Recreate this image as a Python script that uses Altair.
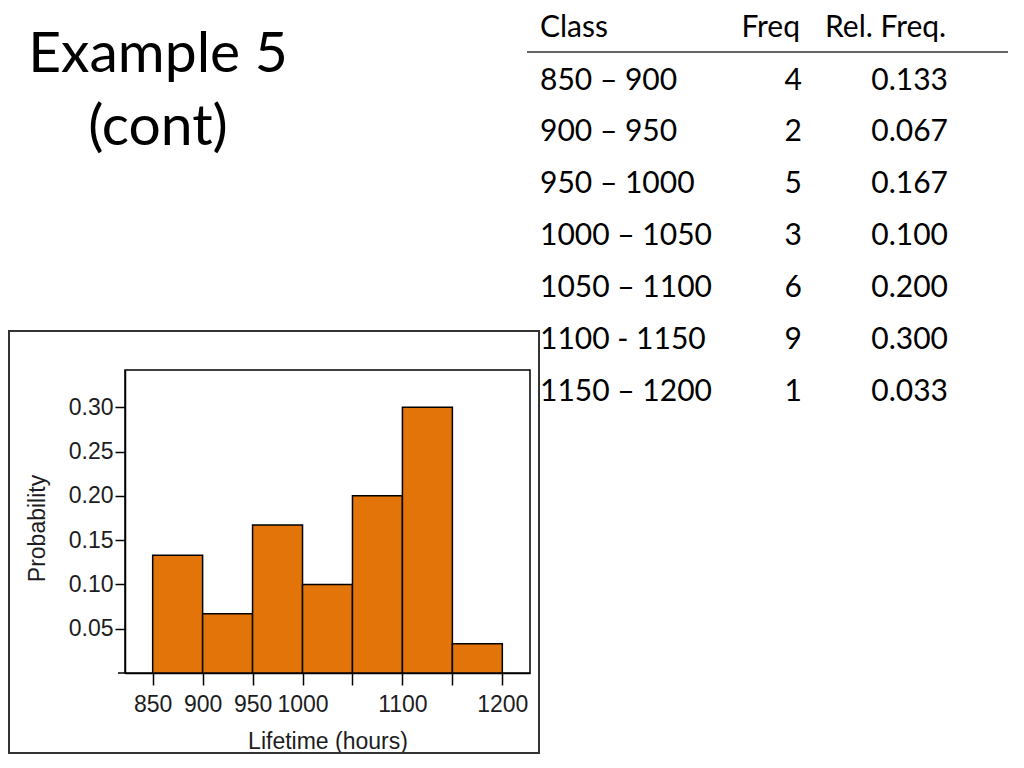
import altair as alt
import pandas as pd

# ---- data ----
classes = ["850 – 900", "900 – 950", "950 – 1000", "1000 – 1050",
           "1050 – 1100", "1100 - 1150", "1150 – 1200"]
bin_start = [850, 900, 950, 1000, 1050, 1100, 1150]
bin_end = [900, 950, 1000, 1050, 1100, 1150, 1200]
freqs = [4, 2, 5, 3, 6, 9, 1]
rel_freqs = [0.133, 0.067, 0.167, 0.100, 0.200, 0.300, 0.033]
x_ticks = [850, 900, 950, 1000, 1050, 1100, 1150, 1200]
y_ticks = [0.05, 0.10, 0.15, 0.20, 0.25, 0.30]

df = pd.DataFrame({
    "row": list(range(len(classes))),
    "cls": classes,
    "start": bin_start,
    "end": bin_end,
    "freq": [str(f) for f in freqs],
    "rel": rel_freqs,
    "rel_txt": [f"{v:.3f}" for v in rel_freqs],
})
one = pd.DataFrame({"k": [0]})  # single row for annotations

ORANGE = "#E2740A"
LAB = "#1c1c22"
SANS = "Liberation Sans"
SLIDE = "Lato"

xscale = alt.Scale(domain=[822.3, 1227.7], nice=False, zero=False)
yscale = alt.Scale(domain=[0, 0.342], nice=False, zero=True)

bars = alt.Chart(df).mark_bar(fill=ORANGE, stroke="black", strokeWidth=1.5).encode(
    x=alt.X("start:Q", scale=xscale,
            axis=alt.Axis(values=x_ticks, format="d",
                          labelExpr="datum.value == 1050 || datum.value == 1150 ? '' : datum.label",
                          tickSize=12, tickWidth=1.5, tickColor="black",
                          domainColor="black", domainWidth=1.5,
                          labelFont=SANS, labelFontSize=23, labelColor=LAB,
                          labelPadding=8, labelFlush=False, labelOverlap=False, labelBound=False,
                          grid=False, title="Lifetime (hours)", titleFont=SANS,
                          titleFontSize=23, titleFontWeight="normal", titleColor=LAB,
                          titleY=75, titleBaseline="alphabetic")),
    x2="end:Q",
    y=alt.Y("rel:Q", scale=yscale,
            axis=alt.Axis(values=y_ticks, format=".2f",
                          tickSize=10, tickWidth=1.5, tickColor="black",
                          domainColor="black", domainWidth=1.5,
                          labelFont=SANS, labelFontSize=23, labelColor=LAB,
                          labelPadding=2, labelFlush=False, labelOverlap=False,
                          grid=False, title="Probability", titleFont=SANS,
                          titleFontSize=23, titleFontWeight="normal", titleColor=LAB,
                          titleX=-88, titleY=158, titleAlign="center",
                          titleBaseline="middle")),
    y2=alt.datum(0),
)

# small extension of the x-axis line to the left of the y axis
axis_ext = alt.Chart(one).mark_rule(color="black", strokeWidth=1.5).encode(
    x=alt.value(-7), x2=alt.value(0), y=alt.value(303))

# outer border of the pasted picture
outer = alt.Chart(one).mark_rect(fillOpacity=0, stroke="#333333", strokeWidth=2).encode(
    x=alt.value(-116), x2=alt.value(414), y=alt.value(-39), y2=alt.value(383))

# slide title
t1 = alt.Chart(one).mark_text(text="Example 5", font=SLIDE, fontSize=57, align="center",
                              baseline="alphabetic", color="black").encode(
    x=alt.value(33), y=alt.value(-298))
t2 = alt.Chart(one).mark_text(text="(cont)", font=SLIDE, fontSize=57, align="center",
                              baseline="alphabetic", color="black").encode(
    x=alt.value(33), y=alt.value(-225))

# table
row_scale = alt.Scale(domain=[0, 6], range=[-280.5, 30.5], nice=False, zero=False)
tab_common = dict(font=SLIDE, fontSize=30, baseline="alphabetic", color="black")

h1 = alt.Chart(one).mark_text(text="Class", align="left", **tab_common).encode(
    x=alt.value(415), y=alt.value(-333))
h2 = alt.Chart(one).mark_text(text="Freq", align="right", **tab_common).encode(
    x=alt.value(675), y=alt.value(-333))
h3 = alt.Chart(one).mark_text(text="Rel. Freq.", align="left", **tab_common).encode(
    x=alt.value(700), y=alt.value(-333))
hrule = alt.Chart(one).mark_rule(color="#333333", strokeWidth=1.5).encode(
    x=alt.value(402), x2=alt.value(883), y=alt.value(-318))

c1 = alt.Chart(df).mark_text(align="left", **tab_common).encode(
    x=alt.value(415), y=alt.Y("row:Q", scale=row_scale, axis=None), text="cls:N")
c2 = alt.Chart(df).mark_text(align="right", **tab_common).encode(
    x=alt.value(677), y=alt.Y("row:Q", scale=row_scale, axis=None), text="freq:N")
c3 = alt.Chart(df).mark_text(align="right", **tab_common).encode(
    x=alt.value(823), y=alt.Y("row:Q", scale=row_scale, axis=None), text="rel_txt:N")

chart = alt.layer(
    outer, bars, axis_ext, t1, t2, h1, h2, h3, hrule, c1, c2, c3
).resolve_scale(y="independent").properties(
    width=405, height=303,
    padding={"left": 117, "top": 362, "right": 482, "bottom": 81},
    autosize=alt.AutoSizeParams(type="none"),
    background="white",
).configure_view(stroke="black", strokeWidth=1.5)

chart.save("out.html", embed_options={"renderer": "svg", "actions": False})
